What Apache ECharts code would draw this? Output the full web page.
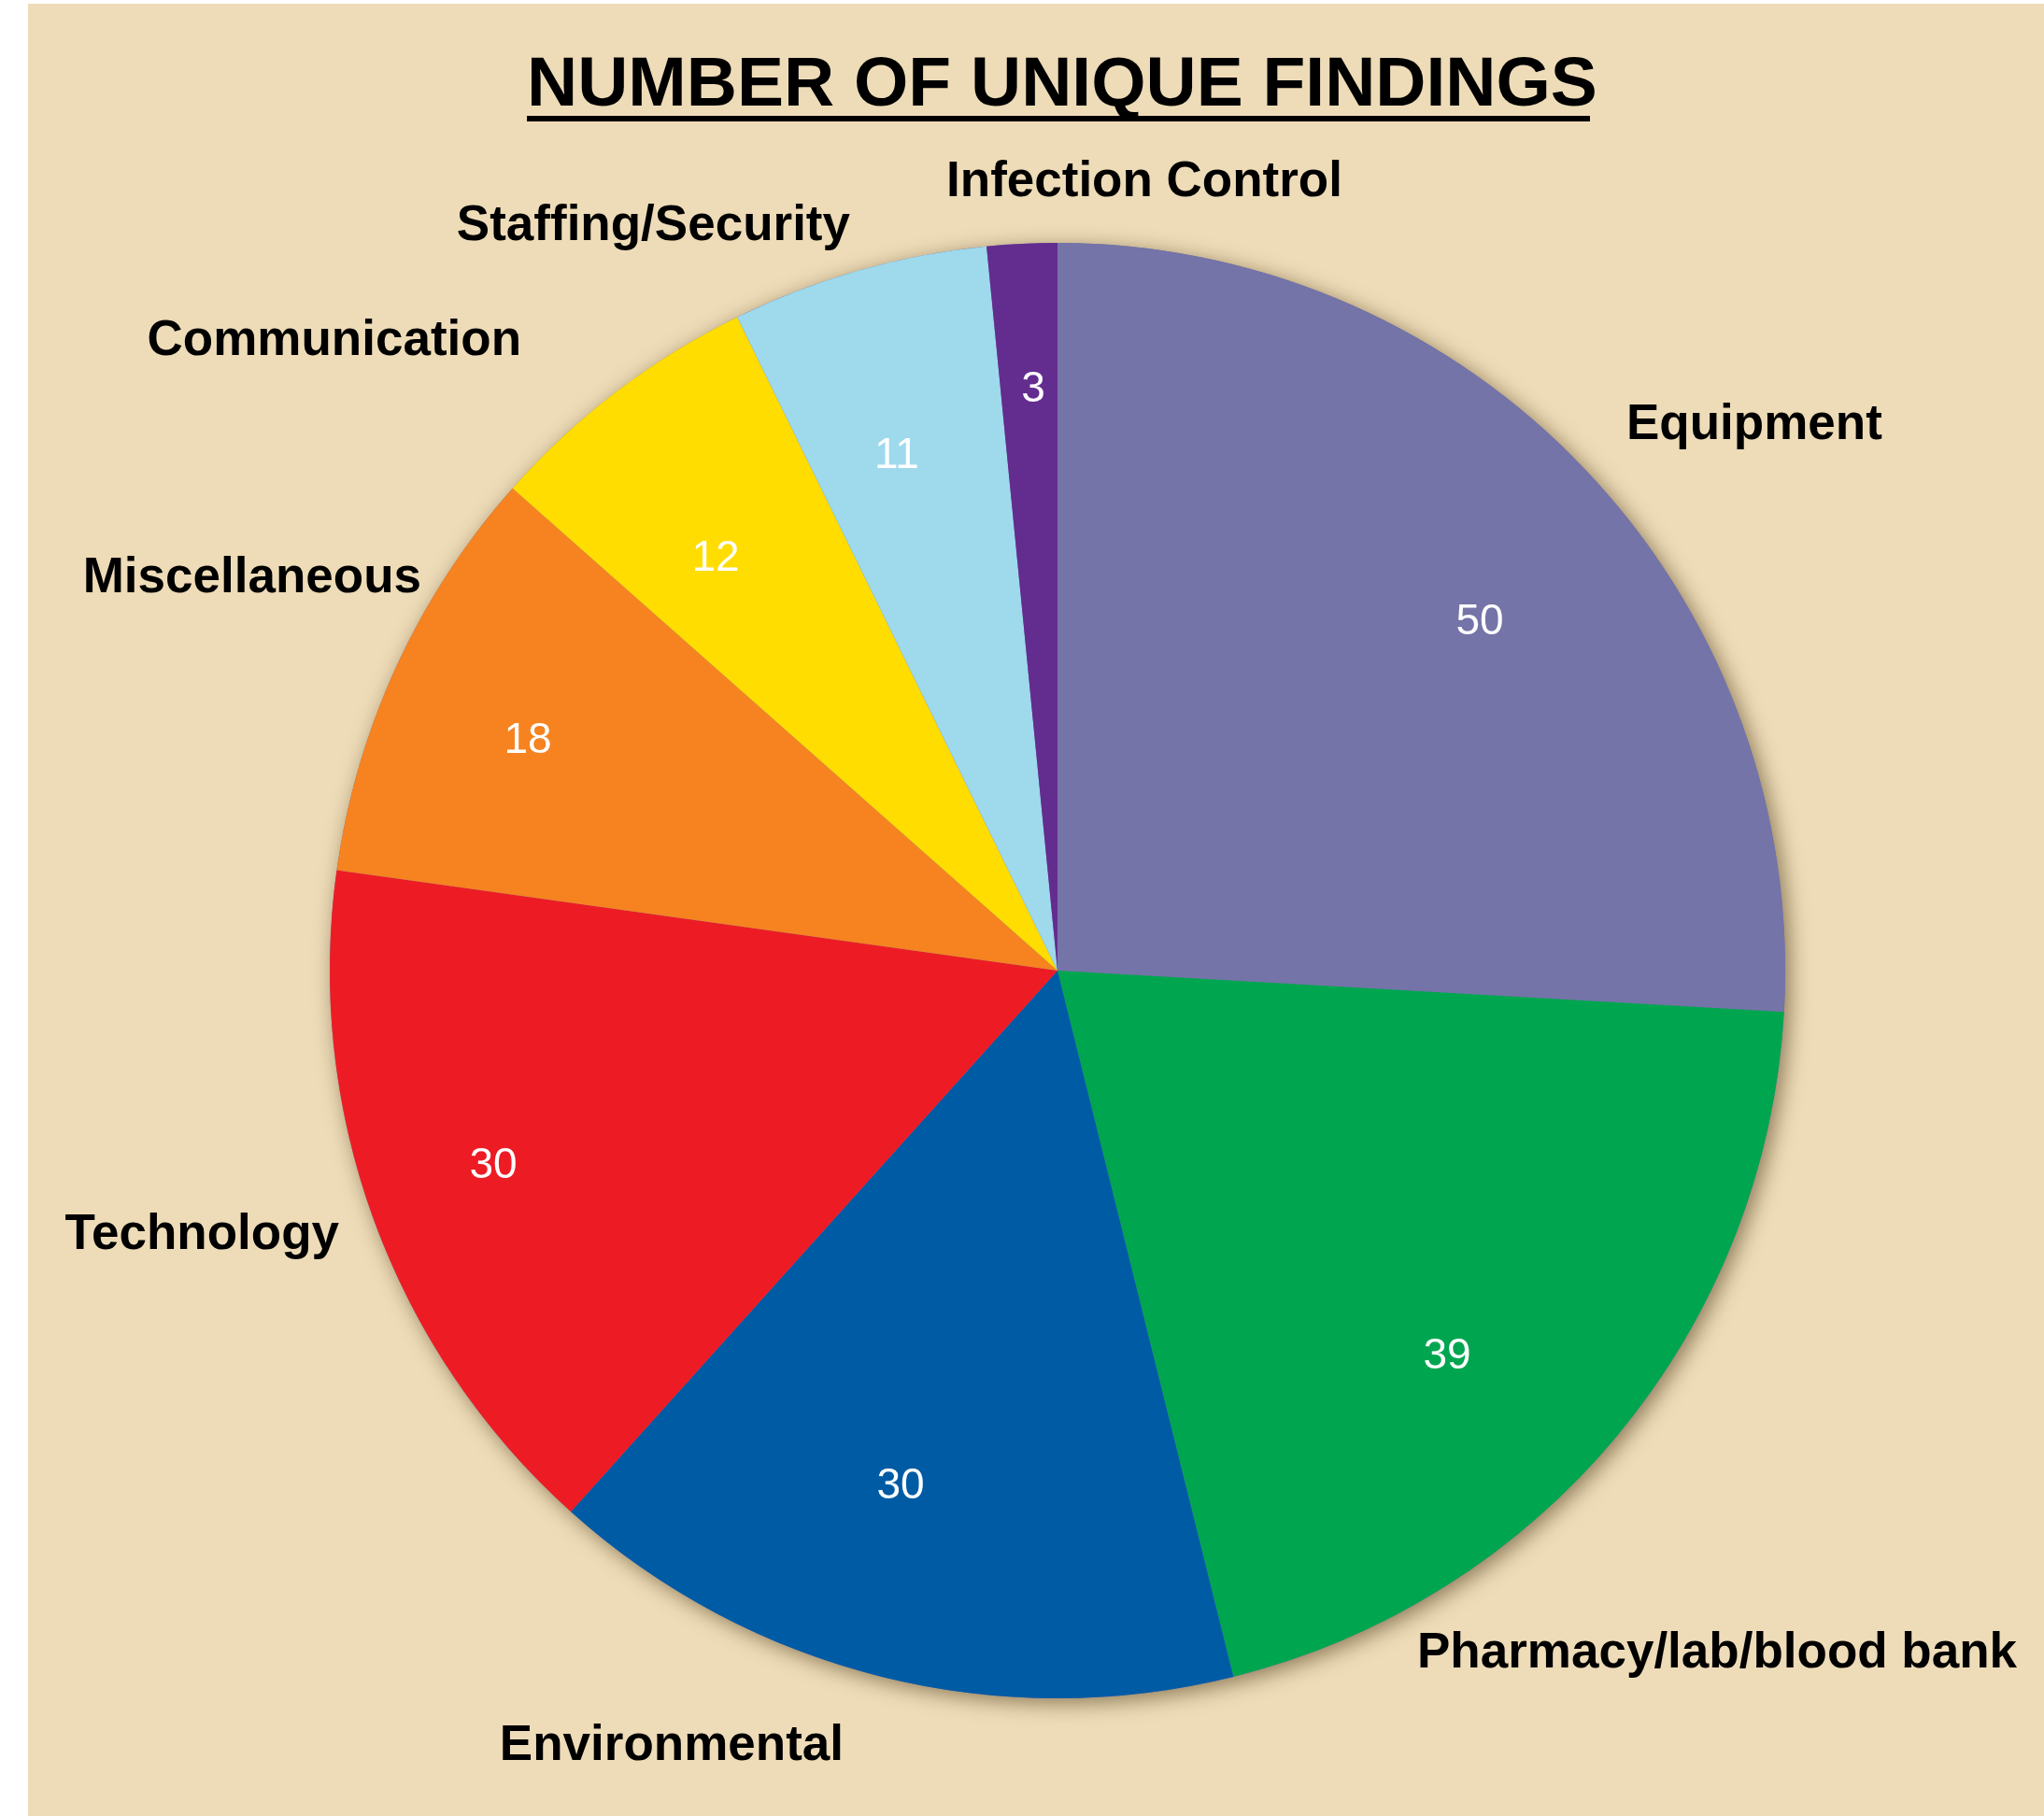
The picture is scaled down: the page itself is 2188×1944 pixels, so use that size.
<!DOCTYPE html>
<html>
<head>
<meta charset="utf-8">
<script src="https://cdn.jsdelivr.net/npm/echarts@6/dist/echarts.min.js"></script>
<style>
  html, body { margin: 0; padding: 0; background: #ffffff; }
  #chart { width: 2188px; height: 1944px; }
</style>
</head>
<body>
<div id="chart"></div>
<script>
// ---- data ----
const categories = ['Equipment', 'Pharmacy/lab/blood bank', 'Environmental', 'Technology',
                    'Miscellaneous', 'Communication', 'Staffing/Security', 'Infection Control'];
const findings = [50, 39, 30, 30, 18, 12, 11, 3];
const sliceColors = ['#7474a8', '#00a64f', '#005ba5', '#ed1c24', '#f68320', '#ffdd00', '#9ed9ec', '#632c8f'];
const titleText = 'NUMBER OF UNIQUE FINDINGS';

// ---- label placement (text only, in px) ----
const nameLabelPlace = [
  [1741, 455, 'left'],
  [1517, 1770, 'left'],
  [903, 1869, 'right'],
  [363, 1322, 'right'],
  [451, 619, 'right'],
  [558, 365, 'right'],
  [910, 242, 'right'],
  [1225, 195, 'center']
];
const valueLabelPlace = [
  [1584, 666], [1549, 1452], [964, 1591], [528, 1248],
  [565, 793], [766, 598], [960, 488], [1106, 417]
];

const FONT = "'Liberation Sans', Arial, Helvetica, sans-serif";
const CX = 1132, CY = 1039, R = 779;

const pieData = categories.map((c, i) => ({
  name: c, value: findings[i], itemStyle: { color: sliceColors[i] }
}));

const chart = echarts.init(document.getElementById('chart'));
chart.setOption({
  backgroundColor: '#ffffff',
  animation: false,
  title: {
    text: titleText,
    left: 564, top: 55, padding: 0,
    textStyle: { fontFamily: FONT, fontWeight: 'bold', fontSize: 75, color: '#000000' }
  },
  graphic: [
    { type: 'rect', z: -10, silent: true, shape: { x: 30, y: 4, width: 2158, height: 1940 }, style: { fill: '#eedcb8' } },
    { type: 'rect', z: 10, silent: true, shape: { x: 564, y: 124, width: 1138, height: 6 }, style: { fill: '#000000' } }
  ],
  series: [
    { // shadow base
      type: 'pie', silent: true, center: [CX, CY], radius: R, startAngle: 90,
      label: { show: false }, labelLine: { show: false },
      itemStyle: { color: '#7474a8', shadowBlur: 22, shadowColor: 'rgba(60,40,10,0.55)', shadowOffsetX: 5, shadowOffsetY: 5 },
      data: [{ name: 'base', value: 1 }], z: 1
    },
    { // slices + category names
      type: 'pie', silent: true, center: [CX, CY], radius: R, startAngle: 90, clockwise: true,
      avoidLabelOverlap: false,
      itemStyle: { borderWidth: 0 },
      label: {
        show: true, position: 'outside', formatter: '{b}',
        fontFamily: FONT, fontWeight: 'bold', fontSize: 53, color: '#000000'
      },
      labelLine: { show: false },
      labelLayout: function (p) {
        const pl = nameLabelPlace[p.dataIndex];
        return { x: pl[0], y: pl[1], align: pl[2], verticalAlign: 'middle' };
      },
      data: pieData, z: 2
    },
    { // value labels
      type: 'pie', silent: true, center: [CX, CY], radius: [R * 0.54, R], startAngle: 90, clockwise: true,
      avoidLabelOverlap: false,
      itemStyle: { color: 'rgba(0,0,0,0)' },
      label: {
        show: true, position: 'inside', formatter: '{c}',
        fontFamily: FONT, fontSize: 46, color: '#ffffff'
      },
      labelLine: { show: false },
      labelLayout: function (p) {
        const pl = valueLabelPlace[p.dataIndex];
        return { x: pl[0], y: pl[1], align: 'center', verticalAlign: 'middle' };
      },
      data: categories.map((c, i) => ({ name: c, value: findings[i] })), z: 3
    }
  ]
});
</script>
</body>
</html>
